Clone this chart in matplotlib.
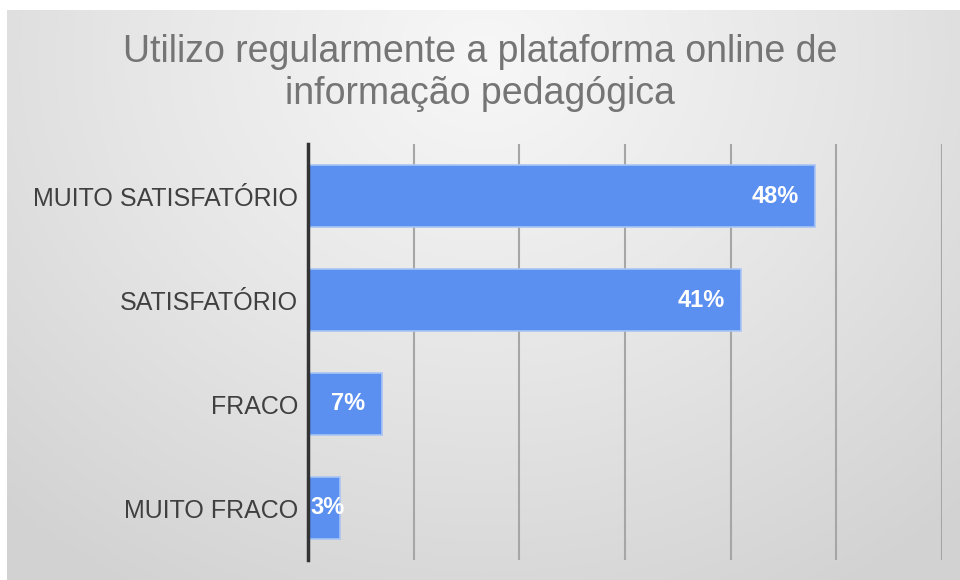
import numpy as np
import matplotlib
matplotlib.use("Agg")
import matplotlib.pyplot as plt
from matplotlib.colors import LinearSegmentedColormap

plt.rcParams['font.family'] = ['Liberation Sans', 'DejaVu Sans']

title = "Utilizo regularmente a plataforma online de\ninformação pedagógica"
categories = ["MUITO SATISFATÓRIO", "SATISFATÓRIO", "FRACO", "MUITO FRACO"]
values = [0.48, 0.41, 0.07, 0.03]
labels = ["48%", "41%", "7%", "3%"]
x_ticks = [0.0, 0.1, 0.2, 0.3, 0.4, 0.5, 0.6]

W, H = 960, 580
fig = plt.figure(figsize=(W / 100, H / 100), dpi=100)
fig.patch.set_facecolor("white")

# background panel with radial gradient
bg = fig.add_axes([7 / W, 0, (W - 7) / W, (H - 10) / H])
bg.set_axis_off()
yy, xx = np.mgrid[0:1:300j, 0:1:500j]
r = np.sqrt(((xx - 0.5) / 0.75) ** 2 + ((yy - 0.08) / 1.1) ** 2)
r = np.clip(r, 0, 1)
cmap = LinearSegmentedColormap.from_list("bg", ["#f7f7f7", "#e6e6e6", "#d2d2d2"])
bg.imshow(r, cmap=cmap, aspect="auto", extent=[0, 1, 1, 0], vmin=0, vmax=1)
bg.set_xlim(0, 1)
bg.set_ylim(1, 0)

ax = fig.add_axes([308 / W, 1 - 560 / H, (942 - 308) / W, (560 - 144) / H])
ax.patch.set_alpha(0)
y = np.arange(len(categories))
bars = ax.barh(y, values, height=0.6, color="#5b8ff0", edgecolor="#a9c4f5",
               linewidth=1.2, zorder=3)
ax.set_xlim(0, 0.6)
ax.set_ylim(len(categories) - 0.5, -0.5)
ax.set_xticks(x_ticks)
ax.xaxis.grid(True, color="#a6a6a6", linewidth=1.5, zorder=0)
ax.set_axisbelow(True)
ax.tick_params(axis="x", length=0, labelbottom=False)
ax.tick_params(axis="y", length=0, pad=7)
ax.set_yticks(y)
ax.set_yticklabels(categories, fontsize=18, color="#404040")
for s in ["top", "right", "bottom"]:
    ax.spines[s].set_visible(False)
ax.spines["left"].set_color("#333333")
ax.spines["left"].set_linewidth(2.5)
ax.spines["left"].set_zorder(4)

for b, lab in zip(bars, labels):
    yc = b.get_y() + b.get_height() / 2
    if b.get_width() >= 0.05:
        ax.annotate(lab, xy=(b.get_width(), yc), xytext=(-12, 0),
                    textcoords="offset points", ha="right", va="center",
                    color="white", fontsize=17, fontweight="bold", zorder=5)
    else:
        ax.annotate(lab, xy=(0, yc), xytext=(2, 0),
                    textcoords="offset points", ha="left", va="center",
                    color="white", fontsize=17, fontweight="bold", zorder=5)

fig.text(0.5, 1 - 73 / H, title, ha="center", va="center", fontsize=27,
         color="#757575", linespacing=1.25)

fig.savefig("out.png", dpi=100)
